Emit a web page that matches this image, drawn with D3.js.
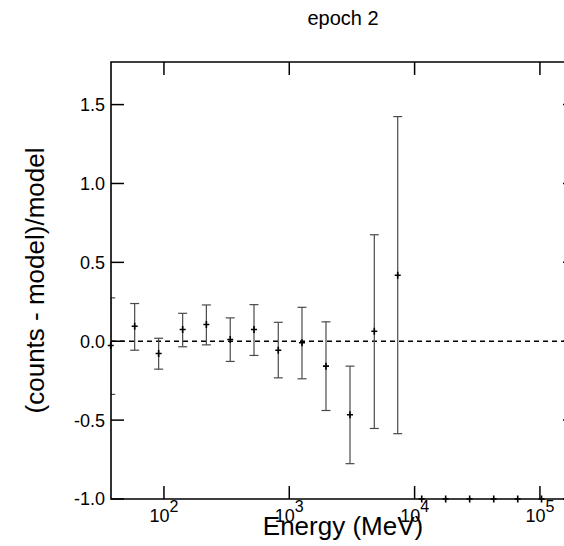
<!DOCTYPE html>
<html lang="en">
<head>
<meta charset="utf-8">
<script src="https://d3js.org/d3.v7.min.js"></script>
<style type="text/css">
body {
	margin: 0;
	background: white;
	font-family: "Liberation Sans", Arial, sans-serif;
}
svg text {
	fill: black;
}
</style>
</head>
<body>
<script type="text/javascript">

// residuals for epoch 2
var energy = [37.6, 58.4, 90.7, 141, 218, 338, 523, 817, 1263, 1963, 3051, 4769, 7333,
              11400, 17700, 27500, 42800, 66500, 103000];
var resid  = [-0.027, 0.095, -0.078, 0.074, 0.106, 0.011, 0.074, -0.057, -0.010, -0.158, -0.466, 0.063, 0.418,
              -1, -1, -1, -1, -1, -1];
var errHi  = [0.275, 0.239, 0.019, 0.177, 0.230, 0.148, 0.232, 0.120, 0.215, 0.123, -0.158, 0.675, 1.424,
              -1, -1, -1, -1, -1, -1];
var errLo  = [-0.337, -0.057, -0.177, -0.035, -0.023, -0.128, -0.090, -0.232, -0.238, -0.439, -0.776, -0.553, -0.586,
              -1, -1, -1, -1, -1, -1];

var yTicks = [-1.0, -0.5, 0.0, 0.5, 1.0, 1.5];
var xTicks = [1e2, 1e3, 1e4, 1e5];
var xTickExp = ["2", "3", "4", "5"];

var titleText = "epoch 2";
var xLabel = "Energy (MeV)";
var yLabel = "(counts - model)/model";

var width = 564;
var height = 546;

// plot frame (right side runs past the window)
var pLeft = 111, pRight = 576, pTop = 62, pBottom = 499;

var x = d3.scaleLog()
	.domain([37.8, 194000])
	.range([pLeft, pRight]);

var y = d3.scaleLinear()
	.domain([-1, 1.77])
	.range([pBottom, pTop]);

var svg = d3.select("body")
	.append("svg")
	.attr("width", width)
	.attr("height", height);

svg.append("defs").append("clipPath")
	.attr("id", "plotclip")
	.append("rect")
	.attr("x", pLeft)
	.attr("y", pTop)
	.attr("width", pRight - pLeft)
	.attr("height", pBottom - pTop);

// zero line
svg.append("line")
	.attr("x1", pLeft)
	.attr("x2", pRight)
	.attr("y1", y(0))
	.attr("y2", y(0))
	.style("stroke", "black")
	.style("stroke-width", 1.3)
	.style("stroke-dasharray", "5,4");

var data = energy.map(function(e, i) {
	return {e: e, v: resid[i], hi: errHi[i], lo: errLo[i]};
});

// error bars
var bars = svg.append("g")
	.attr("clip-path", "url(#plotclip)")
	.selectAll("g")
	.data(data.filter(function(d) { return d.hi > d.lo; }))
	.enter()
	.append("g")
	.style("stroke", "#4a4a4a")
	.style("stroke-width", 1.2);

bars.append("line")
	.attr("x1", function(d) { return x(d.e); })
	.attr("x2", function(d) { return x(d.e); })
	.attr("y1", function(d) { return y(d.hi); })
	.attr("y2", function(d) { return y(d.lo); });

bars.append("line")
	.attr("x1", function(d) { return x(d.e) - 4.5; })
	.attr("x2", function(d) { return x(d.e) + 4.5; })
	.attr("y1", function(d) { return y(d.hi); })
	.attr("y2", function(d) { return y(d.hi); });

bars.append("line")
	.attr("x1", function(d) { return x(d.e) - 4.5; })
	.attr("x2", function(d) { return x(d.e) + 4.5; })
	.attr("y1", function(d) { return y(d.lo); })
	.attr("y2", function(d) { return y(d.lo); });

// plus markers
var marks = svg.append("g")
	.selectAll("path")
	.data(data)
	.enter()
	.append("path")
	.attr("d", function(d) {
		var cx = x(d.e), cy = y(d.v);
		return "M" + (cx - 3) + "," + cy + "H" + (cx + 3) + "M" + cx + "," + (cy - 3.5) + "V" + (cy + 3.5);
	})
	.style("stroke", "black")
	.style("stroke-width", 1.6)
	.style("fill", "none");

// frame
svg.append("path")
	.attr("d", "M" + pRight + "," + pTop + "H" + pLeft + "V" + pBottom + "H" + pRight)
	.style("fill", "none")
	.style("stroke", "black")
	.style("stroke-width", 1.6);

var tickLen = 13;

// y ticks, left and right
svg.append("g").selectAll("line")
	.data(yTicks)
	.enter()
	.append("line")
	.attr("x1", pLeft)
	.attr("x2", pLeft + tickLen)
	.attr("y1", function(d) { return y(d); })
	.attr("y2", function(d) { return y(d); })
	.style("stroke", "black")
	.style("stroke-width", 1.5);

svg.append("g").selectAll("line")
	.data(yTicks)
	.enter()
	.append("line")
	.attr("x1", pRight - tickLen)
	.attr("x2", pRight)
	.attr("y1", function(d) { return y(d); })
	.attr("y2", function(d) { return y(d); })
	.style("stroke", "black")
	.style("stroke-width", 1.5);

// plain hyphen for negatives, like the original
svg.append("g").selectAll("text")
	.data(yTicks)
	.enter()
	.append("text")
	.attr("x", pLeft - 6)
	.attr("y", function(d) { return y(d); })
	.attr("dy", "0.36em")
	.attr("text-anchor", "end")
	.style("font-size", "18px")
	.text(function(d) { return d3.format(".1f")(d).replace("\u2212", "-"); });

// x ticks, bottom and top
svg.append("g").selectAll("line")
	.data(xTicks)
	.enter()
	.append("line")
	.attr("x1", function(d) { return x(d); })
	.attr("x2", function(d) { return x(d); })
	.attr("y1", pBottom)
	.attr("y2", pBottom - tickLen)
	.style("stroke", "black")
	.style("stroke-width", 1.5);

svg.append("g").selectAll("line")
	.data(xTicks)
	.enter()
	.append("line")
	.attr("x1", function(d) { return x(d); })
	.attr("x2", function(d) { return x(d); })
	.attr("y1", pTop)
	.attr("y2", pTop + tickLen)
	.style("stroke", "black")
	.style("stroke-width", 1.5);

var xl = svg.append("g").selectAll("text")
	.data(xTicks)
	.enter()
	.append("text")
	.attr("x", function(d) { return x(d); })
	.attr("y", 522)
	.attr("text-anchor", "middle")
	.style("font-size", "18px");

xl.append("tspan").text("10");
xl.append("tspan")
	.attr("dy", -10)
	.style("font-size", "16px")
	.text(function(d, i) { return xTickExp[i]; });

// titles
svg.append("text")
	.attr("x", 343)
	.attr("y", 25)
	.attr("text-anchor", "middle")
	.style("font-size", "20px")
	.text(titleText);

svg.append("text")
	.attr("x", 343)
	.attr("y", 535)
	.attr("text-anchor", "middle")
	.style("font-size", "26px")
	.text(xLabel);

svg.append("text")
	.attr("transform", "translate(44," + ((pTop + pBottom) / 2) + ") rotate(-90)")
	.attr("text-anchor", "middle")
	.style("font-size", "26px")
	.text(yLabel);

</script>
</body>
</html>
